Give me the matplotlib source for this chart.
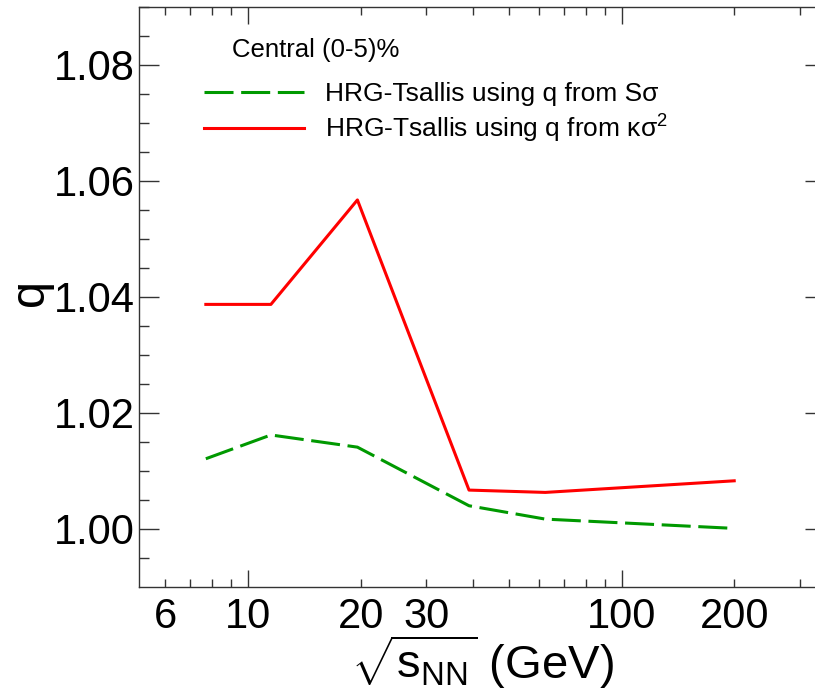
import numpy as np
import matplotlib
matplotlib.use("Agg")
import matplotlib.pyplot as plt
from matplotlib.ticker import FixedLocator, FixedFormatter

plt.rcParams["font.family"] = ["Liberation Sans", "DejaVu Sans"]
plt.rcParams["mathtext.fontset"] = "custom"
plt.rcParams["mathtext.rm"] = "Liberation Sans"
plt.rcParams["mathtext.it"] = "Liberation Sans:italic"

# sqrt(s_NN) in GeV, central (0-5)%
energies = [7.7, 11.5, 19.6, 39, 62.4, 200]
q_from_ssigma = [1.0121, 1.0162, 1.0141, 1.0040, 1.0017, 1.0001]
q_from_kappa = [1.0387, 1.0387, 1.0567, 1.0067, 1.0063, 1.0083]

x_major = [10, 100]
x_minor = [6, 7, 8, 9, 20, 30, 40, 50, 60, 70, 80, 90, 200, 300]
x_labels = {6: "6", 20: "20", 30: "30", 200: "200"}

axis_col = "#333333"

fig = plt.figure(figsize=(8.15, 6.93), dpi=100)
ax = fig.add_axes([139 / 815, 106 / 693, 686 / 815, 580.3 / 693])

ax.plot(energies, q_from_ssigma, color="#009900", lw=2.2,
        dashes=(9.5, 2.5), label="HRG-Tsallis using q from Sσ")
ax.plot(energies, q_from_kappa, color="#ff0000", lw=2.2,
        label="HRG-Tsallis using q from κσ$^{2}$")

ax.set_xscale("log")
ax.set_xlim(5.1, 350)
ax.set_ylim(0.99, 1.09)

ax.xaxis.set_major_locator(FixedLocator(x_major))
ax.xaxis.set_major_formatter(FixedFormatter(["10", "100"]))
ax.xaxis.set_minor_locator(FixedLocator(x_minor))
ax.xaxis.set_minor_formatter(FixedFormatter([x_labels.get(v, "") for v in x_minor]))

ax.set_yticks(np.arange(1.00, 1.081, 0.02))
ax.set_yticks(np.arange(0.995, 1.09, 0.005), minor=True)
ax.set_yticklabels([f"{v:.2f}" for v in np.arange(1.00, 1.081, 0.02)])

ax.tick_params(axis="both", which="both", direction="in", top=True, right=True,
               colors=axis_col, labelcolor="black", width=1.0)
ax.tick_params(axis="x", which="major", length=12.2, labelsize=30, pad=7)
ax.tick_params(axis="x", which="minor", length=5.8, labelsize=30, pad=7)
ax.tick_params(axis="y", which="major", length=14.4, labelsize=30, pad=3)
ax.tick_params(axis="y", which="minor", length=7.2)

for sp in ax.spines.values():
    sp.set_color(axis_col)
    sp.set_linewidth(1.0)

ax.set_xlabel(r"$\sqrt{\mathrm{s}_{\mathrm{NN}}}$ (GeV)", fontsize=34, labelpad=-2)
ax.set_ylabel("q", fontsize=35)
ax.yaxis.set_label_coords(-0.125, 0.507)

fig.text(232 / 815, 1 - 50 / 693, "Central (0-5)%", fontsize=18.5,
         ha="left", va="center")
leg = ax.legend(loc="upper left", bbox_to_anchor=(204 / 815, 1 - 82 / 693),
                bbox_transform=fig.transFigure, frameon=False, fontsize=19,
                handlelength=3.8, handletextpad=0.8, labelspacing=0.25,
                borderpad=0, borderaxespad=0)

fig.savefig("out.png", dpi=100)
